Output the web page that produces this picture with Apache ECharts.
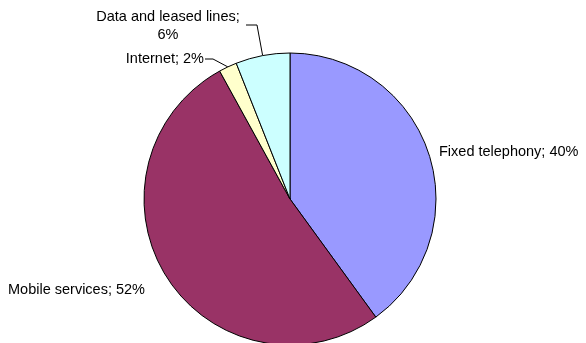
<!DOCTYPE html>
<html>
<head>
<meta charset="utf-8">
<script src="https://cdn.jsdelivr.net/npm/echarts@6/dist/echarts.min.js"></script>
<style>html,body{margin:0;padding:0;background:#fff}#c{width:586px;height:343px}</style>
</head>
<body>
<div id="c"></div>
<script>
const categories = ["Fixed telephony", "Mobile services", "Internet", "Data and leased lines"];
const values = [40, 52, 2, 6];
const colors = ["#9999FF", "#993366", "#FFFFCC", "#CCFFFF"];
const labelTexts = ["Fixed telephony; 40%", "Mobile services; 52%", "Internet; 2%", "Data and leased lines;\n6%"];

const chart = echarts.init(document.getElementById('c'), null, {renderer: 'canvas'});

// label placement (label anchors only)
const labelPos = [
  {x: 439, y: 152, align: 'left', line: null},
  {x: 8, y: 290, align: 'left', line: null},
  {x: 204, y: 59, align: 'right', line: [[213, 59], [205, 59]]},
  {x: 168, y: 26, align: 'center', line: [[257, 25], [246, 25]]}
];

chart.setOption({
  animation: false,
  series: [{
    type: 'pie',
    center: [290, 199],
    radius: 146,
    startAngle: 90,
    clockwise: true,
    avoidLabelOverlap: false,
    data: categories.map((c, i) => ({
      name: c,
      value: values[i],
      itemStyle: {color: colors[i]},
      label: {formatter: labelTexts[i]},
      labelLine: {show: labelPos[i].line !== null}
    })),
    itemStyle: {borderColor: '#000', borderWidth: 1},
    label: {
      show: true,
      position: 'outside',
      color: '#000',
      fontFamily: 'Liberation Sans, Arial, sans-serif',
      fontSize: 14.5,
      lineHeight: 18,
      align: 'center'
    },
    labelLine: {
      show: true,
      lineStyle: {color: '#000', width: 1}
    },
    emphasis: {disabled: true},
    labelLayout: function (params) {
      const p = labelPos[params.dataIndex];
      const res = {x: p.x, y: p.y, align: p.align, verticalAlign: 'middle'};
      if (p.line && params.labelLinePoints) {
        res.labelLinePoints = [params.labelLinePoints[0], p.line[0], p.line[1]];
      }
      return res;
    }
  }]
});
</script>
</body>
</html>
